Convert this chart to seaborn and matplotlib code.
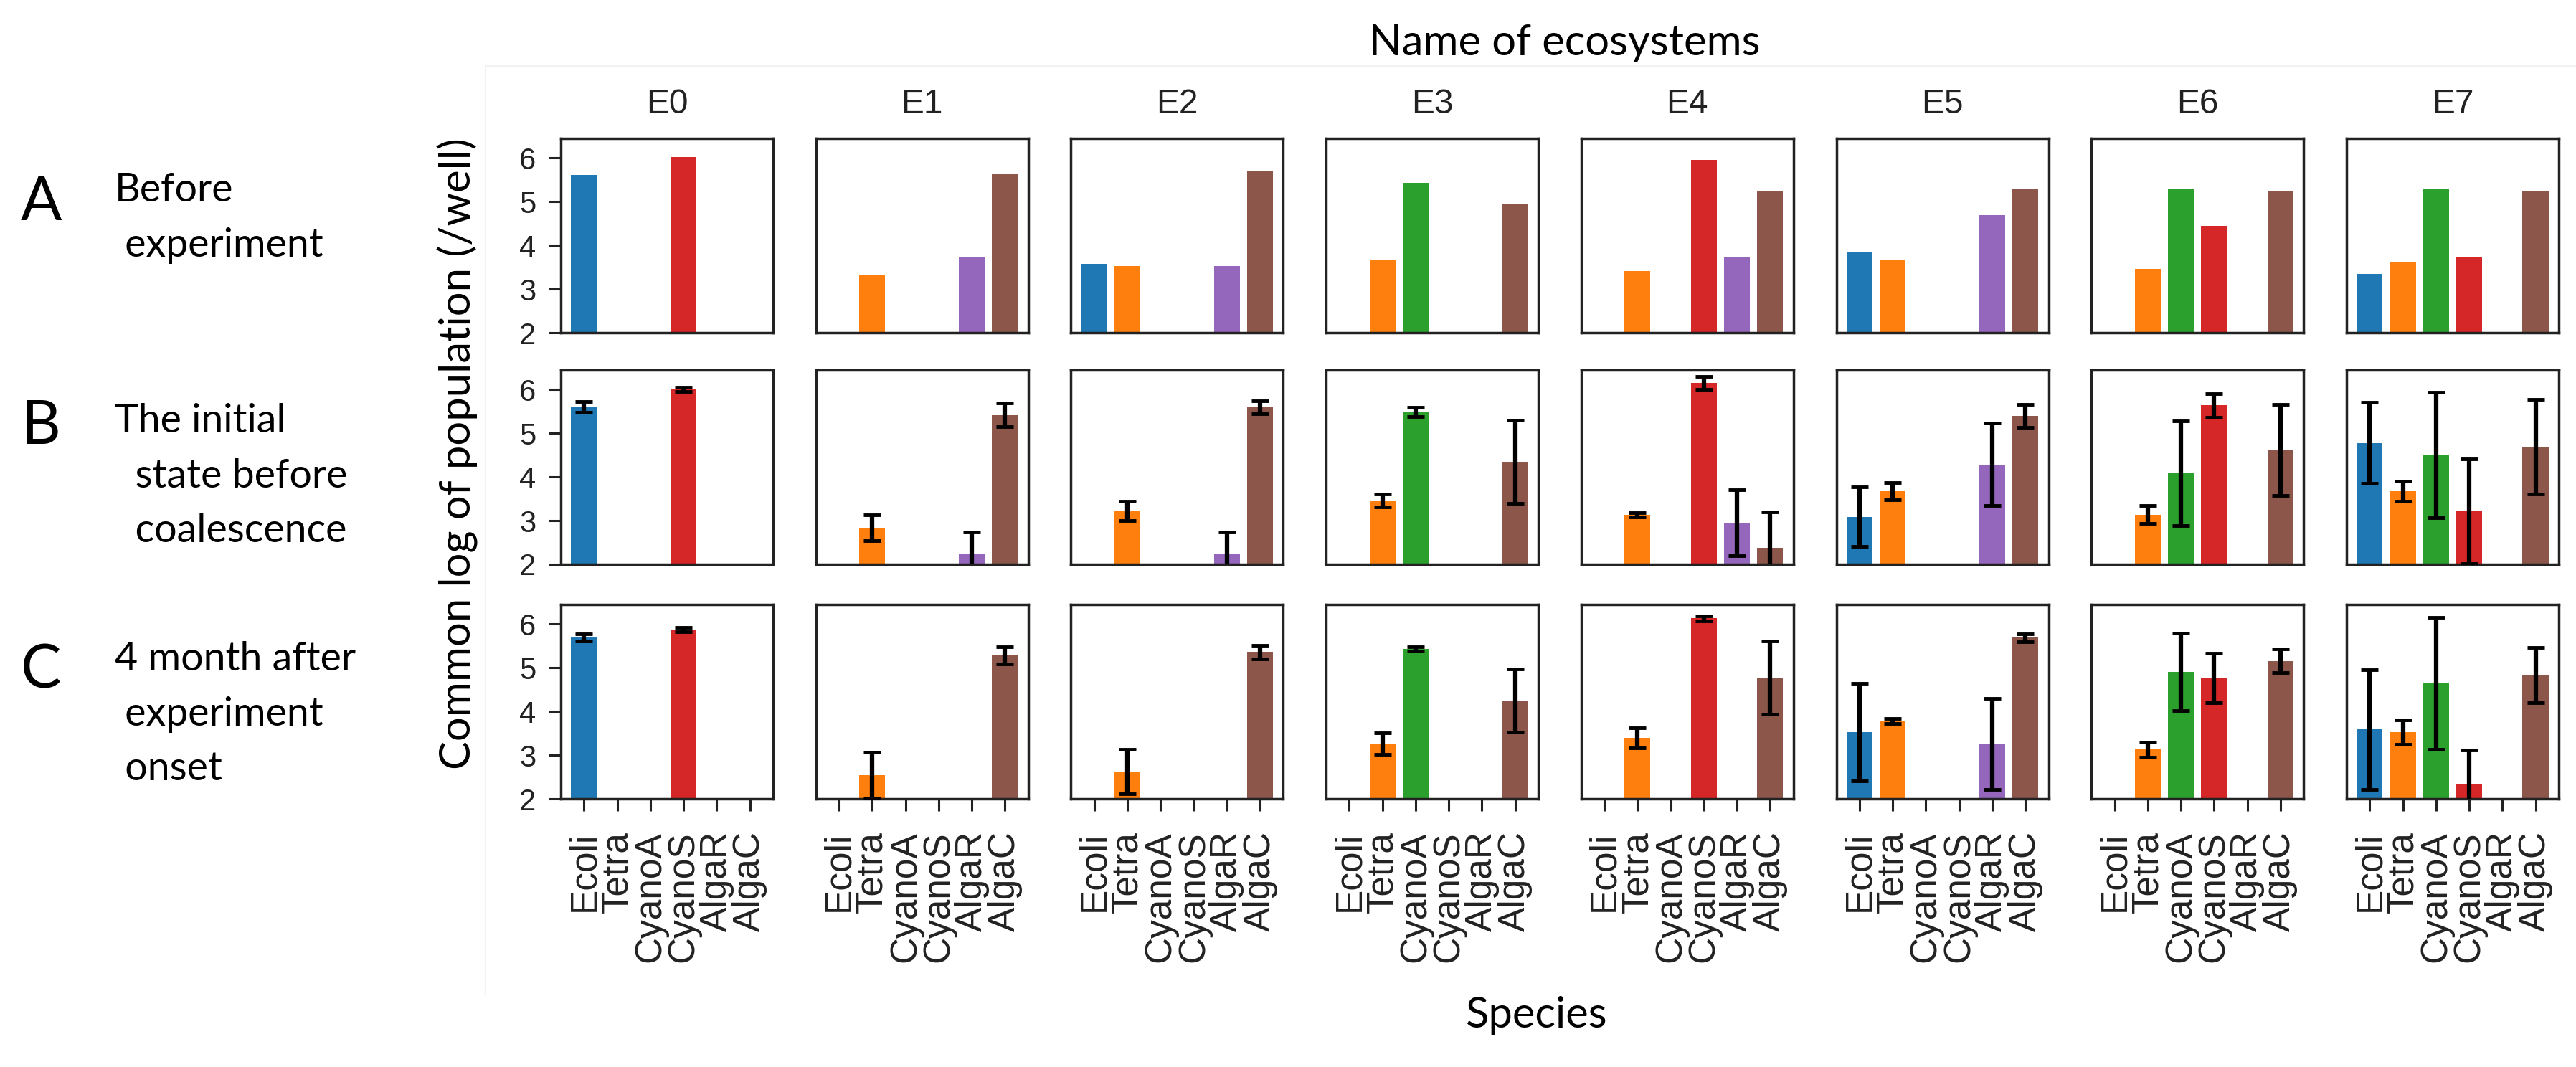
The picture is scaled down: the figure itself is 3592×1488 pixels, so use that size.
import numpy as np
import pandas as pd
import matplotlib
matplotlib.use("Agg")
import matplotlib.pyplot as plt
from matplotlib.lines import Line2D
import seaborn as sns

species = ["Ecoli", "Tetra", "CyanoA", "CyanoS", "AlgaR", "AlgaC"]
ecosystems = ["E0", "E1", "E2", "E3", "E4", "E5", "E6", "E7"]
species_colors = ["#1f77b4", "#ff7f0e", "#2ca02c", "#d62728", "#9467bd", "#8c564b"]
nan = np.nan

# A: before experiment (one value per species)
before_mean = [
    [5.62, nan, nan, 6.02, nan, nan],
    [nan, 3.32, nan, nan, 3.72, 5.63],
    [3.58, 3.52, nan, nan, 3.52, 5.70],
    [nan, 3.66, 5.43, nan, nan, 4.96],
    [nan, 3.41, nan, 5.95, 3.72, 5.23],
    [3.86, 3.66, nan, nan, 4.70, 5.30],
    [nan, 3.46, 5.30, 4.44, nan, 5.23],
    [3.34, 3.62, 5.30, 3.72, nan, 5.23],
]

# B: initial state before coalescence
initial_mean = [
    [5.60, nan, nan, 6.00, nan, nan],
    [nan, 2.84, nan, nan, 2.24, 5.42],
    [nan, 3.22, nan, nan, 2.24, 5.60],
    [nan, 3.46, 5.49, nan, nan, 4.35],
    [nan, 3.14, nan, 6.15, 2.95, 2.37],
    [3.09, 3.68, nan, nan, 4.29, 5.40],
    [nan, 3.14, 4.09, 5.64, nan, 4.62],
    [4.78, 3.68, 4.50, 3.22, nan, 4.69],
]
initial_err = [
    [0.12, nan, nan, 0.05, nan, nan],
    [nan, 0.30, nan, nan, 0.50, 0.27],
    [nan, 0.22, nan, nan, 0.50, 0.15],
    [nan, 0.15, 0.10, nan, nan, 0.95],
    [nan, 0.05, nan, 0.15, 0.75, 0.83],
    [0.68, 0.20, nan, nan, 0.95, 0.27],
    [nan, 0.20, 1.20, 0.27, nan, 1.05],
    [0.93, 0.23, 1.44, 1.20, nan, 1.08],
]

# C: 4 months after onset
month4_mean = [
    [5.69, nan, nan, 5.88, nan, nan],
    [nan, 2.54, nan, nan, nan, 5.28],
    [nan, 2.62, nan, nan, nan, 5.36],
    [nan, 3.26, 5.43, nan, nan, 4.25],
    [nan, 3.39, nan, 6.13, nan, 4.77],
    [3.53, 3.78, nan, nan, 3.26, 5.69],
    [nan, 3.13, 4.91, 4.77, nan, 5.16],
    [3.59, 3.53, 4.64, 2.35, nan, 4.83],
]
month4_err = [
    [0.08, nan, nan, 0.05, nan, nan],
    [nan, 0.52, nan, nan, nan, 0.20],
    [nan, 0.51, nan, nan, nan, 0.15],
    [nan, 0.25, 0.05, nan, nan, 0.73],
    [nan, 0.23, nan, 0.05, nan, 0.84],
    [1.12, 0.06, nan, nan, 1.04, 0.09],
    [nan, 0.17, 0.89, 0.57, nan, 0.27],
    [1.37, 0.28, 1.51, 0.77, nan, 0.63],
]

row_letters = ["A", "B", "C"]
row_texts = [
    ["Before", " experiment"],
    ["The initial", "  state before", "  coalescence"],
    ["4 month after", " experiment", " onset"],
]

sns.set_style("ticks")
plt.rcParams["font.family"] = ["Liberation Sans", "DejaVu Sans"]

W, H = 3592, 1488
fig = plt.figure(figsize=(W / 100, H / 100), dpi=100)


def rect(left, top, w, h):
    return [left / W, 1 - (top + h) / H, w / W, h / H]


col_left0, col_pitch, panel_w = 782, 355.7, 296
row_tops, panel_h = [193, 516, 843], 271
ink = "#222222"

rows = [(before_mean, None), (initial_mean, initial_err), (month4_mean, month4_err)]

for r, (means, errs) in enumerate(rows):
    for c, eco in enumerate(ecosystems):
        ax = fig.add_axes(rect(col_left0 + c * col_pitch, row_tops[r], panel_w, panel_h))
        df = pd.DataFrame({"species": species, "value": means[c]})
        df = df.dropna()
        sns.barplot(data=df, x="species", y="value", hue="species",
                    order=species, hue_order=species, palette=species_colors,
                    width=0.78, saturation=1, linewidth=0, errorbar=None,
                    legend=False, ax=ax)
        if errs is not None:
            pos = np.arange(len(species))
            m = np.array(means[c], dtype=float)
            e = np.array(errs[c], dtype=float)
            ok = ~np.isnan(m)
            ax.errorbar(pos[ok], m[ok], yerr=e[ok], fmt="none", ecolor="black",
                        elinewidth=4.5, capsize=8.5, capthick=3.5, zorder=5)
        ax.set_xlim(-0.7, 5.7)
        ax.set_ylim(2, 6.45)
        ax.set_yticks([2, 3, 4, 5, 6])
        ax.set_xlabel("")
        ax.set_ylabel("")
        for sp in ax.spines.values():
            sp.set_visible(True)
            sp.set_linewidth(2.5)
            sp.set_color(ink)
        ax.tick_params(axis="y", length=12, width=2.2, pad=13,
                       labelsize=30, colors=ink)
        if c > 0:
            ax.tick_params(axis="y", left=False, labelleft=False)
        if r < 2:
            ax.tick_params(axis="x", bottom=False, labelbottom=False)
        else:
            ax.tick_params(axis="x", length=12.5, width=2.2, pad=20,
                           labelsize=37, colors=ink, labelrotation=90)
        if r == 0:
            ax.set_title(eco, fontsize=34.5, color=ink, pad=25)

# faint frame of the inner chart
fig.add_artist(Line2D([677 / W, 1], [1 - 92 / H] * 2, color="#f2f2f2", lw=1.5))
fig.add_artist(Line2D([677 / W] * 2, [1 - 92 / H, 1 - 1386 / H], color="#f2f2f2", lw=1.5))

note_font = ["Lato", "DejaVu Sans"]
fig.text(2182 / W, 1 - 77 / H, "Name of ecosystems", ha="center", va="baseline",
         fontsize=43, family=note_font, color="black")
fig.text(2142 / W, 1 - 1433 / H, "Species", ha="center", va="baseline",
         fontsize=43, family=note_font, color="black")
fig.text(638 / W, 1 - 633 / H, "Common log of population (/well)", ha="center",
         va="center", rotation=90, fontsize=43, family=note_font, color="black")

letter_y = [283, 595, 935]
text_base = [281, 603, 935]
for r in range(3):
    fig.text(29 / W, 1 - letter_y[r] / H, row_letters[r], ha="left", va="center",
             fontsize=61, family=note_font, color="black")
    for i, line in enumerate(row_texts[r]):
        fig.text(160 / W, 1 - (text_base[r] + i * 76.5) / H, line, ha="left",
                 va="baseline", fontsize=40, family=note_font, color="black")

fig.savefig("out.png", dpi=100)
